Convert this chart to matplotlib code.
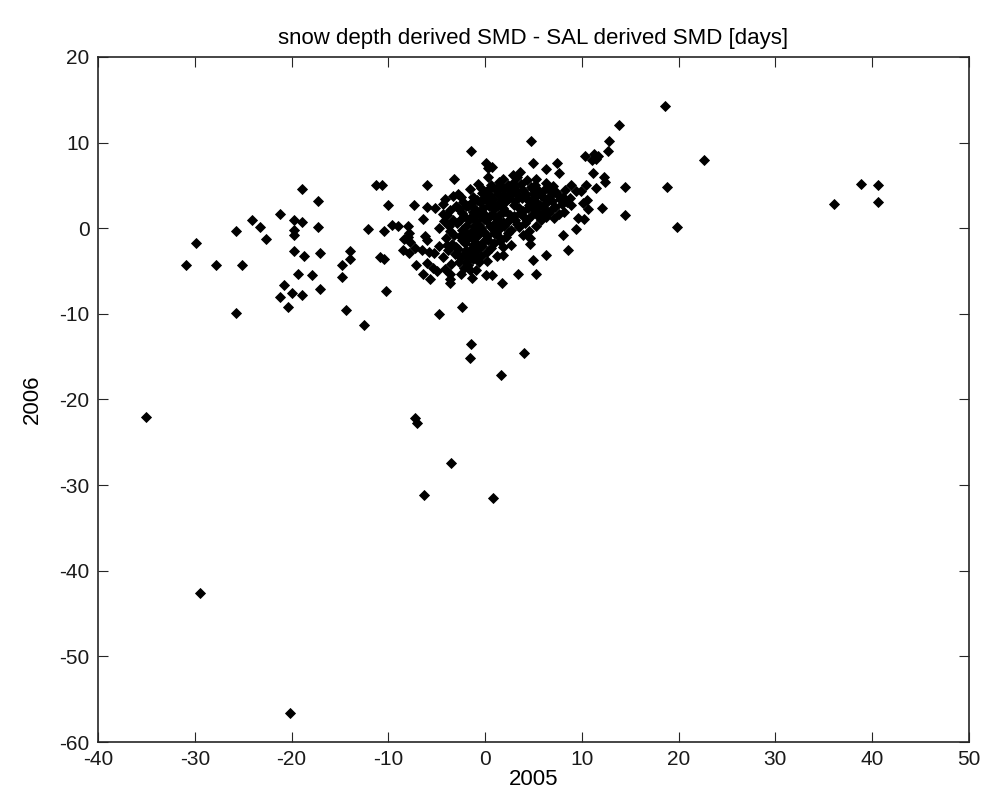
import matplotlib
matplotlib.use("Agg")
import matplotlib.pyplot as plt
from matplotlib import font_manager

# pick a narrow sans if we have one
names = set(f.name for f in font_manager.fontManager.ttflist)
fam = 'Liberation Sans Narrow' if 'Liberation Sans Narrow' in names else 'Liberation Sans'
plt.rcParams['font.family'] = [fam, 'DejaVu Sans']
plt.rcParams['axes.unicode_minus'] = False

title = "snow depth derived SMD - SAL derived SMD [days]"
xlabel = "2005"
ylabel = "2006"

# sparse points, left side
left_pts = [(-30.9, -4.3), (-29.9, -1.7), (-27.8, -4.3), (-25.7, -0.3), (-25.7, -9.9),
            (-25.1, -4.3), (-24.1, 1.0), (-23.3, 0.1), (-22.6, -1.3), (-21.2, 1.6),
            (-20.8, -6.6), (-21.2, -8.0), (-20.0, -7.6), (-20.4, -9.2), (-19.7, 0.9),
            (-18.9, 0.7), (-19.7, -0.2), (-19.7, -0.8), (-19.7, -2.7), (-18.9, 4.6),
            (-17.3, 3.2), (-17.3, 0.1), (-18.7, -3.2), (-17.1, -2.9), (-19.3, -5.3),
            (-17.9, -5.5), (-18.9, -7.8), (-17.1, -7.1), (-14.4, -9.5), (-12.5, -11.3),
            (-14.8, -4.3), (-14.8, -5.7), (-14.0, -2.7), (-14.0, -3.6), (-12.1, -0.1),
            (-11.3, 5.0), (-10.7, 5.0), (-10.0, 2.7), (-10.4, -0.3), (-9.6, 0.4),
            (-9.0, 0.3), (-10.9, -3.4), (-10.4, -3.6), (-10.2, -7.3)]

# points just left of the main cluster
midleft_pts = [(-8.0, 0.2), (-7.9, -0.6), (-8.0, -1.0), (-7.8, -1.6), (-8.4, -1.3),
               (-6.0, 5.0), (-3.2, 5.7), (-7.3, 2.7), (-6.0, 2.5), (-5.2, 2.3),
               (-4.1, 3.4), (-6.4, 1.1), (-4.3, 1.6), (-4.8, 0.0), (-6.2, -0.9),
               (-6.0, -1.4), (-8.5, -2.5), (-7.9, -2.9), (-7.2, -2.3), (-6.5, -2.5),
               (-5.8, -2.8), (-5.3, -2.9), (-4.8, -2.1), (-7.1, -4.3), (-6.0, -4.1),
               (-5.4, -4.7), (-5.0, -5.0), (-6.4, -5.3), (-5.7, -5.9), (-3.6, -5.3),
               (-3.6, -5.9), (-3.6, -6.4)]

# lower outliers
low_pts = [(-4.8, -10.0), (-2.4, -9.2), (-1.5, -13.5), (-1.6, -15.2), (1.6, -17.2),
           (4.0, -14.6), (-7.2, -22.2), (-7.0, -22.7), (-3.5, -27.4), (-6.3, -31.1),
           (0.8, -31.5), (-35.0, -22.0), (-29.5, -42.6), (-20.2, -56.6)]

# right side / upper points
right_pts = [(0.1, 7.6), (0.3, 7.0), (0.7, 7.2), (-1.5, 9.0), (4.7, 10.2), (4.9, 7.6),
             (7.4, 7.6), (10.3, 8.4), (11.3, 8.7), (11.5, 8.1), (11.0, 8.0), (11.7, 8.4),
             (12.8, 10.2), (13.8, 12.0), (12.7, 9.0), (14.5, 4.8), (14.5, 1.5), (18.6, 14.3),
             (18.8, 4.8), (19.8, 0.1), (22.6, 8.0), (36.1, 2.8), (38.8, 5.2), (40.6, 5.1),
             (40.6, 3.0), (11.1, 6.4), (12.3, 6.0), (12.4, 5.4), (12.1, 2.3), (10.6, 2.2),
             (10.4, 5.0), (8.9, 5.0), (9.4, 4.3), (9.9, 4.3), (11.5, 4.7), (10.5, 3.3),
             (10.1, 2.9), (8.8, 3.5), (8.9, 2.7), (9.6, 1.2), (10.2, 1.1), (9.4, -0.1),
             (8.6, -2.5), (1.8, 5.7), (2.9, 6.2), (3.6, 6.6), (6.3, 6.9), (7.6, 6.5),
             (5.3, 5.8), (6.3, 5.3), (7.0, 4.9), (8.0, -0.8), (6.3, -3.1), (5.0, -3.7),
             (4.6, -1.2), (4.6, -1.8), (2.7, -2.0), (1.2, -3.3), (1.9, -3.1), (-0.5, -2.1),
             (1.7, -6.4), (3.4, -5.3), (5.3, -5.3), (-0.9, -4.9), (-1.6, -4.9), (0.1, -5.5),
             (0.7, -5.5)]

# dense core, read column by column
core_pts = [
    (-4.4, 2.8), (-3.9, 1.5), (-4.2, 0.8), (-3.6, -0.3), (-4.0, -1.2), (-3.4, -1.8),
    (-3.8, -2.6), (-4.3, -3.4), (-3.5, -4.2), (-4.1, -4.8), (-3.3, 3.8),
    (-2.8, 4.0), (-2.3, 3.1), (-2.7, 2.2), (-2.2, 1.4), (-2.9, 0.6), (-2.4, -0.2),
    (-2.6, -0.9), (-2.1, -1.7), (-2.8, -2.4), (-2.3, -3.1), (-2.7, -3.9), (-2.2, -4.6),
    (-2.5, -5.4),
    (-1.6, 4.6), (-1.2, 3.6), (-1.8, 2.6), (-1.3, 1.9), (-1.7, 1.0), (-1.1, 0.3),
    (-1.5, -0.5), (-1.9, -1.3), (-1.2, -2.0), (-1.7, -2.8), (-1.3, -3.6), (-1.8, -4.3),
    (-1.4, -5.8),
    (-0.7, 5.2), (-0.3, 4.1), (-0.8, 3.3), (-0.2, 2.4), (-0.6, 1.6), (-0.9, 0.8),
    (-0.4, 0.0), (-0.7, -0.8), (-0.2, -1.6), (-0.8, -2.5), (-0.4, -3.3), (-0.6, -4.0),
    (0.3, 6.0), (0.6, 5.1), (0.2, 4.3), (0.8, 3.4), (0.4, 2.6), (0.7, 1.7), (0.1, 0.9),
    (0.5, 0.2), (0.9, -0.6), (0.3, -1.4), (0.6, -2.3), (0.2, -3.8),
    (1.4, 5.4), (1.1, 4.4), (1.7, 3.6), (1.3, 2.7), (1.8, 1.9), (1.2, 1.1), (1.6, 0.3),
    (1.1, -0.6), (1.5, -1.5), (1.9, -2.2),
    (2.4, 5.0), (2.8, 4.1), (2.2, 3.2), (2.6, 1.5), (2.3, 0.7), (2.7, -0.2), (2.2, -1.0),
    (3.3, 6.0), (3.7, 5.2), (3.2, 4.4), (3.8, 3.5), (3.6, 1.8), (3.1, 1.0), (3.5, 0.1),
    (3.9, -0.8),
    (4.3, 5.6), (4.7, 4.8), (4.2, 4.0), (4.6, 3.1), (4.4, 2.3), (4.8, 1.5), (4.1, 0.6),
    (4.5, -0.3),
    (5.2, 5.1), (5.6, 4.3), (5.1, 3.5), (5.7, 2.7), (5.4, 1.9), (5.8, 1.0), (5.3, 0.2),
    (6.2, 4.6), (6.7, 3.8), (6.4, 3.0), (6.8, 2.1), (6.3, 1.3),
    (7.3, 4.2), (7.7, 3.4), (7.2, 2.5), (7.6, 1.6),
    (8.3, 4.5), (8.5, 3.0), (8.2, 1.9),
    (-3.0, 2.6), (-2.0, 0.2), (-1.0, -1.0), (0.0, 1.5), (0.9, 2.2), (1.9, 4.6),
    (2.9, 5.3), (4.0, 1.3), (5.0, 2.6), (6.0, 3.6), (-0.1, -0.4), (1.0, 0.6),
    (-3.1, -3.0), (-1.9, -3.3), (-0.5, 3.0), (0.5, 4.7), (3.0, 2.7), (6.6, 4.4),
    (7.9, 2.8), (-2.6, 1.0), (1.4, -1.0), (2.5, 4.5), (4.9, 4.0), (5.9, 1.6),
    # second pass over the densest part
    (-3.7, 0.3), (-3.2, -0.8), (-3.9, -2.0), (-3.0, -2.2), (-3.3, 1.0), (-3.6, 2.1),
    (-2.5, 3.6), (-2.0, 2.6), (-2.4, 1.8), (-2.0, -0.6), (-2.4, -1.4), (-2.0, -2.5),
    (-2.6, -3.4), (-2.0, -4.0), (-1.4, 3.0), (-1.0, 2.2), (-1.4, 1.4), (-0.9, -0.2),
    (-1.5, -1.0), (-0.9, -1.7), (-1.4, -2.4), (-1.0, -3.2), (-0.4, 4.7), (-0.1, 3.5),
    (-0.4, 2.0), (-0.1, 1.1), (-0.6, 0.4), (0.2, -0.9), (-0.3, -2.1), (0.2, -2.8),
    (0.5, 3.9), (0.3, 3.0), (0.8, 2.7), (0.4, 1.3), (0.8, -0.1), (0.9, -1.7),
    (1.5, 5.0), (1.3, 4.0), (1.5, 3.1), (1.9, 2.4), (1.4, 1.5), (1.9, 0.7),
    (1.3, -0.2), (2.1, 3.8), (2.5, 3.5), (2.1, 2.0), (2.5, 1.0), (2.0, 0.3),
    (2.4, -0.6), (3.0, 4.8), (3.4, 3.9), (3.1, 3.2), (3.5, 2.3), (3.0, 1.4),
    (3.3, 0.5), (3.9, 4.5), (4.1, 3.6), (4.5, 2.7), (3.9, 2.0), (4.3, 1.0),
    (5.0, 4.6), (4.8, 3.3), (5.3, 3.0), (5.1, 2.2), (5.5, 1.4), (5.8, 3.9),
    (6.1, 2.4), (6.5, 1.8), (6.9, 3.2), (7.1, 1.2), (7.5, 3.9), (8.1, 3.6)]

pts = left_pts + midleft_pts + low_pts + right_pts + core_pts
x_2005 = [p[0] for p in pts]
y_2006 = [p[1] for p in pts]

fig = plt.figure(figsize=(9.83, 8.07), dpi=100)
ax = fig.add_axes([0.0997, 0.0805, 0.886, 0.849])
ax.plot(x_2005, y_2006, linestyle='none', marker='D', markersize=5.0,
        color='black', markeredgewidth=0.6)

ax.set_xlim(-40, 50)
ax.set_ylim(-60, 20)
ax.set_xticks(range(-40, 51, 10))
ax.set_yticks(range(-60, 21, 10))
ax.tick_params(direction='in', top=True, right=True, length=7, width=0.8,
               labelsize=15, colors='#262626', labelcolor='#1a1a1a')
ax.tick_params(axis='x', pad=6)
ax.tick_params(axis='y', pad=6)
for s in ax.spines.values():
    s.set_linewidth(1.2)
    s.set_color('#262626')

ax.set_title(title, fontsize=16, pad=9)
ax.set_xlabel(xlabel, fontsize=16, labelpad=0)
ax.set_ylabel(ylabel, fontsize=16, labelpad=12)

fig.savefig('out.png', dpi=100)
